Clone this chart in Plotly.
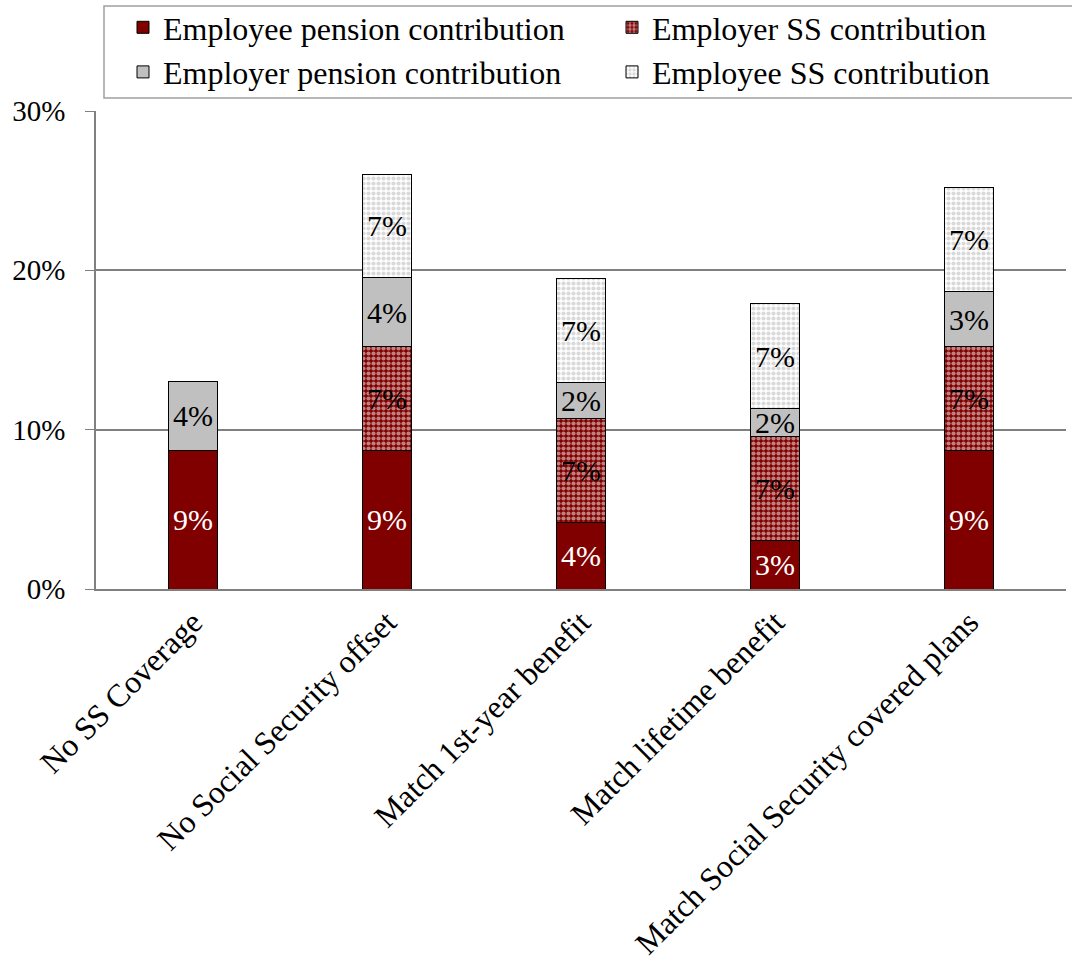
import plotly.graph_objects as go

categories = ["No SS Coverage", "No Social Security offset", "Match 1st-year benefit",
              "Match lifetime benefit", "Match Social Security covered plans"]
employee_pension = [8.7, 8.7, 4.2, 3.07, 8.7]
employer_ss = [None, 6.52, 6.5, 6.51, 6.52]
employer_pension = [4.32, 4.32, 2.25, 1.75, 3.44]
employee_ss = [None, 6.5, 6.51, 6.57, 6.51]

FONT = "Liberation Serif, Times New Roman, Times, serif"
fig = go.Figure()

common = dict(textposition="inside", insidetextanchor="middle",
              texttemplate="%{y:.0f}%", textangle=0, constraintext="none",
              hoverinfo="skip")

fig.add_trace(go.Bar(
    x=categories, y=employee_pension, name="Employee pension contribution", legend="legend",
    marker=dict(color="#800000", line=dict(color="black", width=1)),
    textfont=dict(color="white", size=30, family=FONT), **common))
fig.add_trace(go.Bar(
    x=categories, y=employer_ss, name="Employer SS contribution", legend="legend2",
    marker=dict(color="#800000", line=dict(color="black", width=1),
                pattern=dict(shape=".", fgcolor="white", bgcolor="#800000", size=5, solidity=0.55)),
    textfont=dict(color="black", size=30, family=FONT), **common))
fig.add_trace(go.Bar(
    x=categories, y=employer_pension, name="Employer pension contribution", legend="legend",
    marker=dict(color="#c0c0c0", line=dict(color="black", width=1)),
    textfont=dict(color="black", size=30, family=FONT), **common))
fig.add_trace(go.Bar(
    x=categories, y=employee_ss, name="Employee SS contribution", legend="legend2",
    marker=dict(color="white", line=dict(color="black", width=1),
                pattern=dict(shape=".", fgcolor="#b4b4b4", bgcolor="white", size=5, solidity=0.55)),
    textfont=dict(color="black", size=30, family=FONT), **common))

legend_common = dict(orientation="v", xref="container", yref="container",
                     y=1 + 1/962, xanchor="left", yanchor="top",
                     bgcolor="rgba(0,0,0,0)", borderwidth=0,
                     font=dict(size=32, family=FONT, color="black"),
                     traceorder="normal", tracegroupgap=0)

# legend frame (both columns share one box)
x0p, x1p = (104 - 96) / 970, (1075 - 96) / 970
y0p, y1p = (589 - 98) / 478, (589 - 6) / 478

fig.update_layout(
    width=1072, height=962, barmode="stack", bargap=0.75,
    plot_bgcolor="white", paper_bgcolor="white",
    margin=dict(l=96, r=6, t=111, b=962 - 589, autoexpand=False),
    font=dict(family=FONT, size=30, color="black"),
    uniformtext=dict(mode="show", minsize=30),
    legend=dict(x=123/1072, **legend_common),
    legend2=dict(x=612/1072, **legend_common),
    shapes=[dict(type="rect", xref="paper", yref="paper", x0=x0p, x1=x1p, y0=y0p, y1=y1p,
                 line=dict(color="#a0a0a0", width=1.5), fillcolor="rgba(0,0,0,0)", layer="below")],
    yaxis=dict(range=[0, 30], dtick=10, ticksuffix="%", showgrid=True,
               gridcolor="#808080", gridwidth=1.5, showline=True, linecolor="#808080",
               linewidth=1.5, ticks="outside", ticklen=9, tickcolor="#808080",
               ticklabelstandoff=14,
               tickfont=dict(size=29, family=FONT), zeroline=False),
    xaxis=dict(tickangle=-45, showline=True, linecolor="#808080", linewidth=1.5,
               tickfont=dict(size=32, family=FONT), ticks=""),
)

fig.write_html("out.html", post_script="document.body.style.margin='0';",
               config={"displayModeBar": False})
